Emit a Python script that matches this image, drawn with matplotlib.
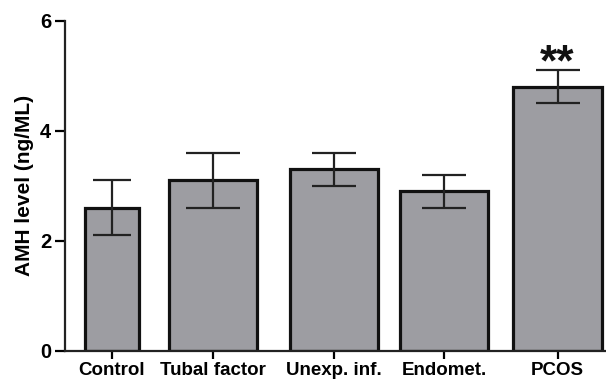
import numpy as np
import matplotlib.pyplot as plt

plt.rcParams['font.family'] = ['Liberation Sans', 'DejaVu Sans']
plt.rcParams['font.weight'] = 'bold'

groups = ['Control', 'Tubal factor', 'Unexp. inf.', 'Endomet.', 'PCOS']
amh_mean = [2.6, 3.1, 3.3, 2.9, 4.8]
amh_err = [0.5, 0.5, 0.3, 0.3, 0.3]
yticks = [0, 2, 4, 6]

# layout (pixel-like x units)
xpos = [112, 213, 334, 444, 557.5]
widths = [54, 88, 88, 88, 89]
caps = [13.7, 19.4, 15.8, 15.8, 15.8]

fig = plt.figure(figsize=(6.06, 3.81), dpi=100)
ax = fig.add_axes([65/606, 30.3/381, 541/606, 330/381])

ax.bar(xpos, amh_mean, width=widths, color='#9d9da2', edgecolor='#111111',
       linewidth=2.3, zorder=2)
for x, m, e, c in zip(xpos, amh_mean, amh_err, caps):
    ax.errorbar(x, m, yerr=e, fmt='none', ecolor='#222222', elinewidth=1.6,
                capsize=c, capthick=1.6, zorder=3)

ax.text(xpos[4], amh_mean[4] + amh_err[4] + 0.12, '**', ha='center', va='center',
        fontsize=32, fontweight='bold', color='#111111')

ax.set_xlim(65, 606)
ax.set_ylim(0, 6)
ax.set_yticks(yticks)
ax.set_xticks(xpos)
ax.set_xticklabels(groups)
ax.set_ylabel('AMH level (ng/ML)', fontsize=15, fontweight='bold', labelpad=4)

for s in ['top', 'right']:
    ax.spines[s].set_visible(False)
for s in ['left', 'bottom']:
    ax.spines[s].set_linewidth(1.6)
    ax.spines[s].set_color('#222222')
ax.tick_params(axis='y', length=7, width=1.6, labelsize=14.5, pad=3)
ax.tick_params(axis='x', length=6, width=1.6, labelsize=13.5, pad=2)

fig.savefig('out.png', dpi=100)
